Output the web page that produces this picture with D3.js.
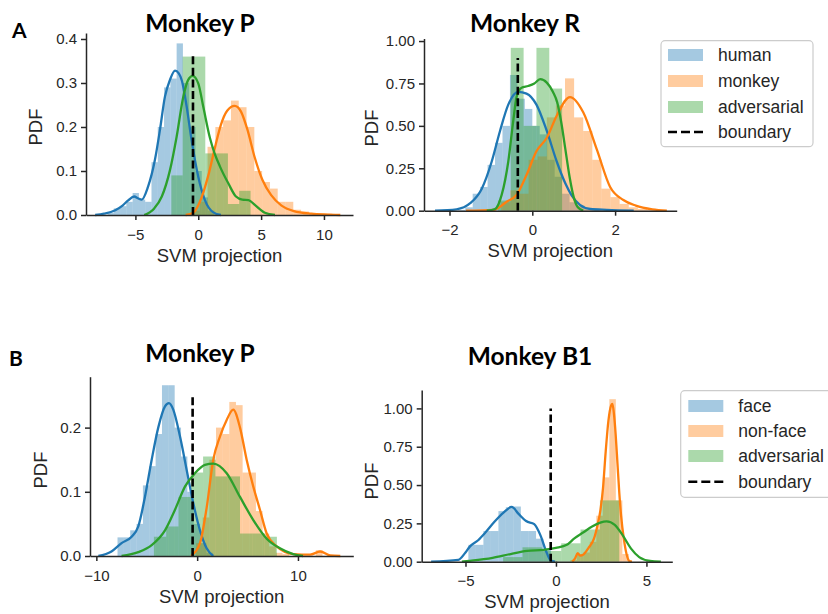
<!DOCTYPE html>
<html><head><meta charset="utf-8">
<script src="https://cdn.jsdelivr.net/npm/d3@7"></script>
<style>body{margin:0;background:#fff}svg{display:block}</style>
</head><body>
<svg id="c" width="828" height="614"></svg>
<script>
// ---------- labels ----------
const panelTitles = ["Monkey P", "Monkey R", "Monkey P", "Monkey B1"];
const panelLetters = ["A", "B"];
const legendLabelsA = ["human", "monkey", "adversarial", "boundary"];
const legendLabelsB = ["face", "non-face", "adversarial", "boundary"];
const xAxisLabel = "SVM projection";
const yAxisLabel = "PDF";

// ---------- ticks ----------
const apXTicks = [-5, 0, 5, 10];
const apYTicks = [0, 0.1, 0.2, 0.3, 0.4];
const arXTicks = [-2, 0, 2];
const arYTicks = [0, 0.25, 0.5, 0.75, 1.0];
const bpXTicks = [-10, 0, 10];
const bpYTicks = [0, 0.1, 0.2];
const bb1XTicks = [-5, 0, 5];
const bb1YTicks = [0, 0.25, 0.5, 0.75, 1.0];

// ---------- decision boundaries (x position, line top) ----------
const boundaryX = [-0.42, -0.35, -0.45, -0.29];
const boundaryTop = [0.368, 0.9, 0.248, 1.0];

// ---------- Panel A, Monkey P ----------
const apHumanEdges = [-7.22,-6.72,-6.22,-5.72,-5.22,-4.72,-4.22,-3.72,-3.22,-2.72,-2.22,-1.72,-1.22,-0.72,-0.22,0.28,0.78,1.28];
const apHumanHeights = [0.005,0.015,0.02,0.03,0.05,0.035,0.03,0.12,0.2,0.29,0.31,0.39,0.3,0.2,0.1,0.04,0.01];
const apMonkeyEdges = [-0.5,0.12,0.74,1.36,1.98,2.6,3.22,3.84,4.46,5.08,5.7,6.32,6.94,7.56,8.18,8.8,9.42,10.04,10.66];
const apMonkeyHeights = [0.01,0.03,0.155,0.2,0.215,0.26,0.245,0.2,0.1,0.075,0.06,0.03,0.03,0.012,0.008,0.004,0.003,0.003];
const apAdvEdges = [-2.14,-1.24,-0.34,0.56,1.46,2.36,3.26,4.16];
const apAdvHeights = [0.09,0.36,0.36,0.14,0.14,0.025,0.055];
const apHumanKde = [[-8.2,0],[-7.5,0.003],[-6.6,0.011],[-6,0.022],[-5.55,0.034],[-5.1,0.042],[-4.8,0.038],[-4.5,0.035],[-4.0,0.064],[-3.45,0.125],[-3.05,0.193],[-2.65,0.269],[-2.25,0.307],[-1.85,0.328],[-1.55,0.322],[-1.3,0.305],[-0.92,0.246],[-0.53,0.17],[0,0.087],[0.53,0.034],[1.2,0.006],[1.8,0]];
const apMonkeyKde = [[-1.0,0],[-0.4,0.005],[0.13,0.03],[0.8,0.09],[1.3,0.15],[1.8,0.205],[2.3,0.237],[2.9,0.248],[3.4,0.235],[3.9,0.195],[4.5,0.13],[5.1,0.08],[5.8,0.045],[6.6,0.022],[7.6,0.009],[9,0.003],[10.3,0.001],[11.3,0]];
const apAdvKde = [[-4.3,0],[-3.5,0.015],[-2.9,0.042],[-2.25,0.102],[-1.72,0.178],[-1.19,0.269],[-0.8,0.307],[-0.45,0.316],[0,0.299],[0.4,0.246],[0.93,0.175],[1.3,0.14],[1.73,0.11],[2.39,0.072],[3.0,0.042],[3.5,0.035],[4.0,0.034],[4.5,0.023],[5.3,0.005],[6.1,0]];

// ---------- Panel A, Monkey R ----------
const arHumanEdges = [-2.16,-1.98,-1.80,-1.62,-1.44,-1.26,-1.08,-0.90,-0.72,-0.54,-0.36,-0.18,0,0.18,0.36,0.54,0.72,0.90,1.08,1.26,1.44,1.62,1.80,1.98];
const arHumanHeights = [0.005,0,0.005,0.02,0.1,0.14,0.27,0.4,0.5,0.8,0.66,0.6,0.5,0.45,0.3,0.2,0.1,0.05,0.03,0.01,0.005,0,0.005];
const arMonkeyEdges = [-0.97,-0.75,-0.53,-0.31,-0.09,0.13,0.35,0.57,0.79,1.01,1.23,1.45,1.67,1.89,2.11,2.33,2.55,2.77,2.99,3.21];
const arMonkeyHeights = [0.0,0.05,0.12,0.1,0.3,0.32,0.55,0.62,0.78,0.55,0.47,0.3,0.13,0.08,0.04,0.02,0.01,0.005,0];
const arAdvEdges = [-0.83,-0.52,-0.21,0.1,0.41,0.72];
const arAdvHeights = [0.06,0.96,0.5,0.96,0.72];
const arHumanKde = [[-2.35,0],[-1.83,0.008],[-1.5,0.044],[-1.22,0.13],[-0.98,0.29],[-0.78,0.47],[-0.58,0.625],[-0.34,0.7],[-0.14,0.69],[0.1,0.625],[0.35,0.47],[0.59,0.29],[0.8,0.16],[0.95,0.09],[1.15,0.034],[1.4,0.01],[1.8,0.005],[2.45,0]];
const arMonkeyKde = [[-1.6,0],[-0.94,0.005],[-0.62,0.053],[-0.38,0.093],[-0.14,0.21],[0.1,0.35],[0.35,0.43],[0.59,0.56],[0.91,0.67],[1.23,0.58],[1.56,0.36],[1.88,0.14],[2.2,0.063],[2.5,0.03],[2.9,0.008],[3.25,0]];
const arAdvKde = [[-1.1,0],[-0.9,0.01],[-0.74,0.093],[-0.58,0.29],[-0.46,0.53],[-0.38,0.67],[-0.26,0.725],[-0.1,0.735],[0.05,0.75],[0.19,0.775],[0.35,0.755],[0.5,0.7],[0.6,0.64],[0.7,0.52],[0.8,0.36],[0.9,0.2],[1.0,0.08],[1.1,0.02],[1.23,0]];

// ---------- Panel B, Monkey P ----------
const bpFaceEdges = [-7.9,-7.27,-6.64,-6.01,-5.38,-4.75,-4.12,-3.49,-2.86,-2.23,-1.6,-0.97,-0.34,0.29,0.92,1.55];
const bpFaceHeights = [0.029,0.029,0.04,0.05,0.11,0.14,0.19,0.266,0.266,0.2,0.155,0.1,0.05,0.02,0.005];
const bpNonfaceEdges = [-0.11,0.55,1.21,1.87,2.53,3.19,3.85,4.51,5.17,5.83,6.49,7.15,7.81,8.47,9.13,9.79,10.45,11.11,11.77,12.43,13.09];
const bpNonfaceHeights = [0.02,0.06,0.15,0.2,0.19,0.24,0.235,0.13,0.13,0.07,0.035,0.015,0.005,0.003,0,0,0,0,0.009,0];
const bpAdvEdges = [-4.29,-3.07,-1.85,-0.63,0.59,1.81,3.03,4.25,5.47,6.69,7.91];
const bpAdvHeights = [0.03,0.046,0.092,0.13,0.155,0.124,0.124,0.035,0.035,0.03];
const bpFaceKde = [[-9.8,0],[-8.5,0.007],[-7.5,0.02],[-6.5,0.03],[-5.84,0.046],[-5.18,0.092],[-4.51,0.15],[-3.86,0.2],[-3.19,0.233],[-2.8,0.238],[-2.37,0.228],[-1.7,0.186],[-1.04,0.134],[-0.38,0.082],[0.28,0.04],[0.94,0.012],[1.6,0]];
const bpNonfaceKde = [[-0.6,0],[0.28,0.02],[0.94,0.075],[1.6,0.15],[2.26,0.186],[2.93,0.212],[3.58,0.228],[4.25,0.2],[4.91,0.15],[5.57,0.108],[6.23,0.072],[6.9,0.035],[7.89,0.015],[9.53,0.003],[11.2,0.002],[12.2,0.007],[13.2,0.001],[14.2,0]];
const bpAdvKde = [[-7.5,0],[-5.84,0.006],[-4.51,0.017],[-3.19,0.04],[-2.2,0.072],[-1.21,0.108],[-0.22,0.129],[0.77,0.142],[1.6,0.144],[2.93,0.129],[4.25,0.092],[5.57,0.056],[6.9,0.027],[8.21,0.012],[9.53,0.003],[10.5,0]];

// ---------- Panel B, Monkey B1 ----------
const bb1FaceEdges = [-4.84,-4.43,-4.01,-3.6,-3.18,-2.77,-2.35,-1.94,-1.52,-1.1,-0.69,-0.27];
const bb1FaceHeights = [0.11,0.11,0.2,0.2,0.33,0.355,0.36,0.2,0.2,0.15,0.08];
const bb1NonfaceEdges = [0.79,1.15,1.51,1.87,2.23,2.59,2.95,3.31,3.67,4.03];
const bb1NonfaceHeights = [0.01,0.05,0.06,0.13,0.3,0.55,1.06,0.4,0.05];
const bb1AdvEdges = [-2.92,-1.85,-0.78,0.29,1.36,2.43,3.5];
const bb1AdvHeights = [0.03,0.094,0.07,0.12,0.21,0.4];
const bb1FaceKde = [[-6.9,0],[-5.4,0.012],[-5.0,0.06],[-4.75,0.1],[-4.3,0.14],[-3.9,0.19],[-3.4,0.26],[-2.9,0.32],[-2.45,0.357],[-2.05,0.31],[-1.65,0.265],[-1.2,0.245],[-0.85,0.17],[-0.55,0.07],[-0.3,0.01],[-0.05,0]];
const bb1NonfaceKde = [[0.9,0],[1.05,0.02],[1.2,0.055],[1.35,0.04],[1.5,0.045],[1.8,0.09],[2.1,0.15],[2.3,0.24],[2.45,0.33],[2.6,0.48],[2.75,0.72],[2.9,0.92],[3.05,1.02],[3.12,1.03],[3.2,0.97],[3.3,0.83],[3.4,0.64],[3.5,0.45],[3.6,0.3],[3.75,0.15],[3.9,0.05],[4.05,0.005],[4.2,0]];
const bb1AdvKde = [[-5.2,0],[-4.8,0.005],[-3.5,0.025],[-2.5,0.05],[-1.6,0.07],[-0.7,0.077],[0,0.09],[0.6,0.11],[1.0,0.15],[1.5,0.19],[2.0,0.23],[2.45,0.255],[2.8,0.263],[3.25,0.24],[3.7,0.17],[4.15,0.085],[4.6,0.03],[5.2,0.005],[5.8,0]];

// ---------- drawing ----------
const BLUE = "#1f77b4", ORANGE = "#ff7f0e", GREEN = "#2ca02c";
const INK = "#262626";
const SANS = "'Liberation Sans', Arial, sans-serif";
const TITLE_FONT = "Lato, 'Open Sans', sans-serif";
const svg = d3.select("#c");

function drawPanel(cfg) {
  const x = d3.scaleLinear().domain(cfg.xDomain).range([cfg.left, cfg.right]);
  const y = d3.scaleLinear().domain(cfg.yDomain).range([cfg.bottom, cfg.top]);
  const g = svg.append("g");
  const histLayer = g.append("g");
  const lineLayer = g.append("g");
  cfg.series.forEach(s => {
    histLayer.append("g").selectAll("rect").data(s.heights).join("rect")
      .attr("x", (d, i) => x(s.edges[i]))
      .attr("width", (d, i) => x(s.edges[i + 1]) - x(s.edges[i]))
      .attr("y", d => y(d))
      .attr("height", d => y(0) - y(d))
      .attr("fill", s.color).attr("fill-opacity", 0.4);
    lineLayer.append("path").datum(s.kde)
      .attr("d", d3.line().x(d => x(d[0])).y(d => y(d[1])).curve(d3.curveMonotoneX))
      .attr("fill", "none").attr("stroke", s.color).attr("stroke-width", 2.3)
      .attr("stroke-linejoin", "round");
  });
  g.append("line")
    .attr("x1", x(cfg.bx)).attr("x2", x(cfg.bx))
    .attr("y1", y(0)).attr("y2", y(cfg.btop))
    .attr("stroke", "#000").attr("stroke-width", 2.6).attr("stroke-dasharray", "8,3.6");

  const xa = g.append("g").attr("transform", `translate(0,${cfg.bottom})`)
    .call(d3.axisBottom(x).tickValues(cfg.xTicks).tickSize(5).tickSizeOuter(0).tickPadding(9).tickFormat(d3.format("d")));
  const ya = g.append("g").attr("transform", `translate(${cfg.left},0)`)
    .call(d3.axisLeft(y).tickValues(cfg.yTicks).tickSize(5).tickSizeOuter(0).tickPadding(4).tickFormat(d3.format(cfg.yFmt)));
  [xa, ya].forEach(a => {
    a.select(".domain").attr("stroke", INK).attr("stroke-width", 1.5);
    a.selectAll(".tick line").attr("stroke", INK).attr("stroke-width", 1.5);
    a.selectAll(".tick text").attr("fill", INK).style("font-family", SANS).style("font-size", "15px");
  });

  g.append("text").attr("x", (cfg.left + cfg.right) / 2).attr("y", cfg.bottom + 46.5)
    .attr("text-anchor", "middle").attr("fill", INK)
    .style("font-family", SANS).style("font-size", "18.5px").text(xAxisLabel);
  g.append("text").attr("transform", `translate(${cfg.ylabX},${cfg.ylabY}) rotate(-90)`)
    .attr("text-anchor", "middle").attr("fill", INK)
    .style("font-family", SANS).style("font-size", "18.5px").text(yAxisLabel);
  g.append("text").attr("x", cfg.titleX).attr("y", cfg.titleY)
    .attr("text-anchor", "middle").attr("fill", "#000")
    .style("font-family", TITLE_FONT).style("font-weight", "bold").style("font-size", "24.5px")
    .text(cfg.title);
}

function drawLegend(lx, ly, w, h, rows, patchX, textX, labels) {
  const g = svg.append("g");
  g.append("rect").attr("x", lx).attr("y", ly).attr("width", w).attr("height", h)
    .attr("rx", 4).attr("fill", "#fff").attr("stroke", "#cccccc").attr("stroke-width", 1.2);
  const cols = [BLUE, ORANGE, GREEN];
  labels.forEach((lab, i) => {
    if (i < 3) {
      g.append("rect").attr("x", patchX).attr("y", rows[i] - 6).attr("width", 35).attr("height", 12)
        .attr("fill", cols[i]).attr("fill-opacity", 0.4);
    } else {
      g.append("line").attr("x1", patchX).attr("x2", patchX + 35).attr("y1", rows[i]).attr("y2", rows[i])
        .attr("stroke", "#000").attr("stroke-width", 2.6).attr("stroke-dasharray", "9,4");
    }
    g.append("text").attr("x", textX).attr("y", rows[i]).attr("dy", "0.35em").attr("fill", INK)
      .style("font-family", SANS).style("font-size", "17.5px").text(lab);
  });
}

drawPanel({
  left: 86, right: 353, top: 33, bottom: 215,
  xDomain: [-8.93, 12.31], yDomain: [0, 0.4136],
  xTicks: apXTicks, yTicks: apYTicks, yFmt: ".1f",
  bx: boundaryX[0], btop: boundaryTop[0],
  ylabX: 41.5, ylabY: 127, titleX: 200, titleY: 32, title: panelTitles[0],
  series: [
    {edges: apHumanEdges, heights: apHumanHeights, kde: apHumanKde, color: BLUE},
    {edges: apMonkeyEdges, heights: apMonkeyHeights, kde: apMonkeyKde, color: ORANGE},
    {edges: apAdvEdges, heights: apAdvHeights, kde: apAdvKde, color: GREEN}
  ]
});
drawPanel({
  left: 424, right: 676.7, top: 38.5, bottom: 210.7,
  xDomain: [-2.616, 3.488], yDomain: [0, 1.015],
  xTicks: arXTicks, yTicks: arYTicks, yFmt: ".2f",
  bx: boundaryX[1], btop: boundaryTop[1],
  ylabX: 377.5, ylabY: 128, titleX: 525, titleY: 31.5, title: panelTitles[1],
  series: [
    {edges: arHumanEdges, heights: arHumanHeights, kde: arHumanKde, color: BLUE},
    {edges: arMonkeyEdges, heights: arMonkeyHeights, kde: arMonkeyKde, color: ORANGE},
    {edges: arAdvEdges, heights: arAdvHeights, kde: arAdvKde, color: GREEN}
  ]
});
drawPanel({
  left: 90, right: 353.3, top: 376.7, bottom: 556,
  xDomain: [-10.63, 15.49], yDomain: [0, 0.2793],
  xTicks: bpXTicks, yTicks: bpYTicks, yFmt: ".1f",
  bx: boundaryX[2], btop: boundaryTop[2],
  ylabX: 47, ylabY: 470, titleX: 200, titleY: 362, title: panelTitles[2],
  series: [
    {edges: bpFaceEdges, heights: bpFaceHeights, kde: bpFaceKde, color: BLUE},
    {edges: bpNonfaceEdges, heights: bpNonfaceHeights, kde: bpNonfaceKde, color: ORANGE},
    {edges: bpAdvEdges, heights: bpAdvHeights, kde: bpAdvKde, color: GREEN}
  ]
});
drawPanel({
  left: 421.7, right: 672.3, top: 390, bottom: 561.7,
  xDomain: [-7.42, 6.43], yDomain: [0, 1.12],
  xTicks: bb1XTicks, yTicks: bb1YTicks, yFmt: ".2f",
  bx: boundaryX[3], btop: boundaryTop[3],
  ylabX: 378, ylabY: 481, titleX: 530, titleY: 365, title: panelTitles[3],
  series: [
    {edges: bb1FaceEdges, heights: bb1FaceHeights, kde: bb1FaceKde, color: BLUE},
    {edges: bb1NonfaceEdges, heights: bb1NonfaceHeights, kde: bb1NonfaceKde, color: ORANGE},
    {edges: bb1AdvEdges, heights: bb1AdvHeights, kde: bb1AdvKde, color: GREEN}
  ]
});

drawLegend(661, 40.7, 152, 106, [55, 81, 107, 132], 668, 718, legendLabelsA);
drawLegend(680.7, 390.7, 160, 106.6, [406, 431, 456, 481.7], 688.3, 738.3, legendLabelsB);

svg.append("text").attr("x", 12).attr("y", 38).attr("fill", "#000")
  .style("font-family", TITLE_FONT).style("font-weight", "bold").style("font-size", "21px").text(panelLetters[0]);
svg.append("text").attr("x", 9).attr("y", 366).attr("fill", "#000")
  .style("font-family", TITLE_FONT).style("font-weight", "bold").style("font-size", "21px").text(panelLetters[1]);
</script>
</body></html>
